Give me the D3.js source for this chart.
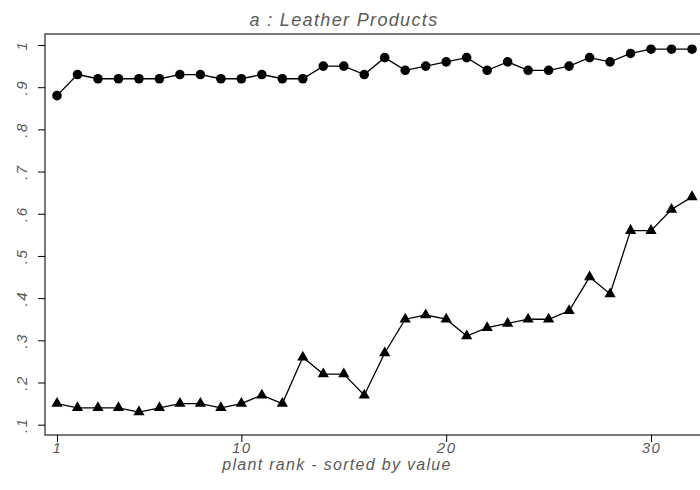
<!DOCTYPE html>
<html>
<head>
<meta charset="utf-8">
<script src="https://cdn.jsdelivr.net/npm/d3@7"></script>
<style>
  body { margin: 0; background: #fff; }
  text { font-family: "Liberation Sans", Arial, sans-serif; font-style: italic; fill: #5a5a5a; }
</style>
</head>
<body>
<div id="app"></div>
<script>
// data (rank 1..32)
const ranks = d3.range(1, 33);
const circleVals = [0.88, 0.93, 0.92, 0.92, 0.92, 0.92, 0.93, 0.93, 0.92, 0.92,
  0.93, 0.92, 0.92, 0.95, 0.95, 0.93, 0.97, 0.94, 0.95, 0.96,
  0.97, 0.94, 0.96, 0.94, 0.94, 0.95, 0.97, 0.96, 0.98, 0.99, 0.99, 0.99];
const triangleVals = [0.15, 0.14, 0.14, 0.14, 0.13, 0.14, 0.15, 0.15, 0.14, 0.15,
  0.17, 0.15, 0.26, 0.22, 0.22, 0.17, 0.27, 0.35, 0.36, 0.35,
  0.31, 0.33, 0.34, 0.35, 0.35, 0.37, 0.45, 0.41, 0.56, 0.56, 0.61, 0.64];
const yTicks = [0.1, 0.2, 0.3, 0.4, 0.5, 0.6, 0.7, 0.8, 0.9, 1];
const xTicks = [1, 10, 20, 30];

const W = 700, H = 490;
const plot = { left: 45, top: 34, bottom: 435, right: 712 };

//create SVG
const svg = d3.select("#app").append("svg")
  .attr("width", W).attr("height", H);

const x = d3.scaleLinear().domain([1, 32]).range([57, 692]);
const y = d3.scaleLinear().domain([0.1, 1]).range([424.7, 45]);

// frame
svg.append("rect")
  .attr("x", plot.left).attr("y", plot.top)
  .attr("width", plot.right - plot.left).attr("height", plot.bottom - plot.top)
  .style("fill", "none").style("stroke", "#333").style("stroke-width", 1.3);

// y axis
const yAxis = svg.append("g")
  .attr("transform", `translate(${plot.left},0)`)
  .call(d3.axisLeft(y).tickValues(yTicks).tickSize(7).tickFormat(() => ""));
yAxis.select(".domain").remove();
yAxis.selectAll("line").style("stroke", "#000");
yAxis.selectAll(".tick").append("text")
  .attr("transform", "translate(-23,0) rotate(-90)")
  .attr("text-anchor", "middle")
  .attr("dy", "0.35em")
  .style("font-size", "15px")
  .style("letter-spacing", "1.5px")
  .text((d) => (d === 1 ? "1" : d3.format(".1f")(d).replace(/^0/, "")));

// x axis
const xAxis = svg.append("g")
  .attr("transform", `translate(0,${plot.bottom})`)
  .call(d3.axisBottom(x).tickValues(xTicks).tickSize(7).tickFormat(() => ""));
xAxis.select(".domain").remove();
xAxis.selectAll("line").style("stroke", "#000");
xAxis.selectAll(".tick").append("text")
  .attr("y", 18)
  .attr("text-anchor", "middle")
  .style("font-size", "15px")
  .style("letter-spacing", "1.5px")
  .text((d) => d);

// title and axis label
svg.append("text")
  .attr("x", 344).attr("y", 26)
  .attr("text-anchor", "middle")
  .style("font-size", "18px")
  .style("letter-spacing", "1.35px")
  .text("a : Leather Products");
svg.append("text")
  .attr("x", 337).attr("y", 470)
  .attr("text-anchor", "middle")
  .style("font-size", "16px")
  .style("letter-spacing", "1.3px")
  .text("plant rank - sorted by value");

//draw lines and markers
const line = d3.line().x((d) => x(d[0])).y((d) => y(d[1]));
const series = [
  { vals: circleVals, sym: d3.symbolCircle, size: 72 },
  { vals: triangleVals, sym: d3.symbolTriangle, size: 55 }
];
series.forEach((s) => {
  const pts = ranks.map((r, i) => [r, s.vals[i]]);
  svg.append("path")
    .attr("d", line(pts))
    .style("fill", "none").style("stroke", "#000").style("stroke-width", 1.3);
  svg.selectAll(null)
    .data(pts)
    .enter()
    .append("path")
    .attr("transform", (d) => `translate(${x(d[0])},${y(d[1])})`)
    .attr("d", d3.symbol().type(s.sym).size(s.size))
    .style("fill", "#000");
});
</script>
</body>
</html>
